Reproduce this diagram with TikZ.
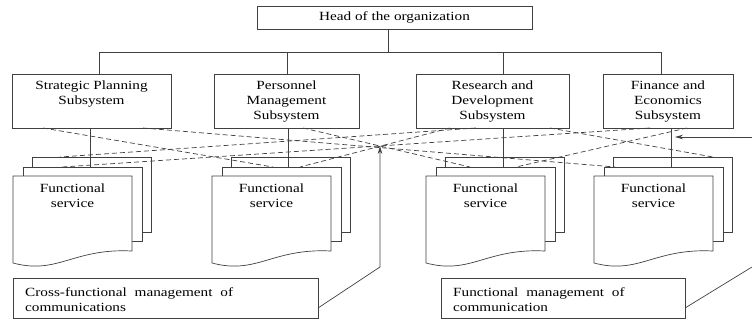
\documentclass[tikz,border=0pt]{standalone}
\usepackage{fontspec}
\setmainfont{Liberation Serif}[FakeStretch=1.22]
\usetikzlibrary{arrows.meta,calc}
\newcommand\fsstack[2]{%
  \node[box, minimum width=119pt, minimum height=75pt, anchor=north west] (#1b) at (#2+19,157) {};
  \node[box, minimum width=119pt, minimum height=74pt, anchor=north west] (#1m) at (#2+10,167) {};
  \draw[ln, fill=white] (#2,176) -- (#2+119,176) -- (#2+119,251)
     .. controls (#2+60,248) and (#2+45,275) .. (#2,263) -- cycle;
  \node[txt, anchor=north] (#1t) at (#2+59.5,184) {Functional\\service};
}
\begin{document}
\begin{tikzpicture}[x=1pt,y=-1pt,
  ln/.style={draw=black!75, line width=0.7pt},
  box/.style={ln, rectangle, inner sep=0pt, fill=white},
  txt/.style={font=\fontsize{12.5}{15}\selectfont, align=center, inner sep=0pt},
  dsh/.style={ln, dash pattern=on 5pt off 3pt},
  arr/.style={ln, -{Stealth[length=8pt,width=4.5pt]}}]
\useasboundingbox (0,0) rectangle (752,322);

% head and subsystems
\node[box, txt, minimum width=275pt, minimum height=23pt] (head) at (394.5,17.5) {Head of the organization};
\node[box, minimum width=159pt, minimum height=54pt] (b1) at (91.5,101) {};
\node[box, minimum width=145pt, minimum height=54pt] (b2) at (286.5,101) {};
\node[box, minimum width=153pt, minimum height=54pt] (b3) at (492.5,101) {};
\node[box, minimum width=130pt, minimum height=54pt] (b4) at (668,101) {};
\node[txt, anchor=north] (t1) at ($(b1.north)+(0,7)$) {Strategic Planning\\Subsystem};
\node[txt, anchor=north] (t2) at ($(b2.north)+(0,7)$) {Personnel\\Management\\Subsystem};
\node[txt, anchor=north] (t3) at ($(b3.north)+(0,7)$) {Research and\\Development\\Subsystem};
\node[txt, anchor=north] (t4) at ($(b4.north)+(0,7)$) {Finance and\\Economics\\Subsystem};

% bus
\coordinate (bus) at (388,52);
\coordinate (j1) at (99,52);
\coordinate (j2) at (287,52);
\coordinate (j3) at (503,52);
\coordinate (j4) at (661,52);
\draw[ln] (head.south -| bus) -- (bus);
\draw[ln] (j1) -- (j4);
\draw[ln] (j1) -- (j1 |- b1.north);
\draw[ln] (j2) -- (j2 |- b2.north);
\draw[ln] (j3) -- (j3 |- b3.north);
\draw[ln] (j4) -- (j4 |- b4.north);

% functional services
\fsstack{s1}{13}
\fsstack{s2}{212}
\fsstack{s3}{426}
\fsstack{s4}{594}

% dashed cross links
\coordinate (d1s) at (43,128);  \coordinate (d1e) at (273,167);
\coordinate (d2s) at (143,128); \coordinate (d2e) at (615,167);
\coordinate (d3s) at (476,128); \coordinate (d3e) at (60,157);
\coordinate (d4s) at (650,128); \coordinate (d4e) at (62,167);
\coordinate (d5s) at (303,128); \coordinate (d5e) at (470,167);
\coordinate (d6s) at (550,128); \coordinate (d6e) at (713,157);
\coordinate (d7s) at (687,128); \coordinate (d7e) at (516,167);
\coordinate (d8s) at (450,128); \coordinate (d8e) at (300,167);
\foreach \i in {1,...,8} { \draw[dsh] (d\i s) -- (d\i e); }

% vertical functional links
\coordinate (v1) at (90,167);
\coordinate (v2) at (288,167);
\coordinate (v3) at (503,167);
\coordinate (v4) at (671,167);
\draw[ln] (v1 |- b1.south) -- (v1);
\draw[ln] (v2 |- b2.south) -- (v2);
\draw[ln] (v3 |- b3.south) -- (v3);
\draw[ln] (v4 |- b4.south) -- (v4);

% bottom legend boxes
\node[box, minimum width=305pt, minimum height=40pt, anchor=north west] (cf) at (13,278) {};
\node[txt, anchor=north west, align=left] (cft) at (25,287) {Cross-functional\hspace{4pt} management\hspace{4pt} of\\communications};
\node[box, minimum width=244pt, minimum height=40pt, anchor=north west] (fm) at (441,278) {};
\node[txt, anchor=north west, align=left] (fmt) at (453,287) {Functional\hspace{4pt} management\hspace{4pt} of\\communication};

% pointers
\coordinate (c1) at (318,308);
\coordinate (k1) at (380,267);
\coordinate (xc) at (380,146);
\draw[arr] (c1) -- (k1) -- (xc);
\coordinate (f1) at (685,308);
\coordinate (f2) at (752,267);
\draw[ln] (f1) -- (f2);
\coordinate (r1) at (752,137);
\coordinate (r2) at (675,137);
\draw[arr] (r1) -- (r2);
\end{tikzpicture}
\end{document}
